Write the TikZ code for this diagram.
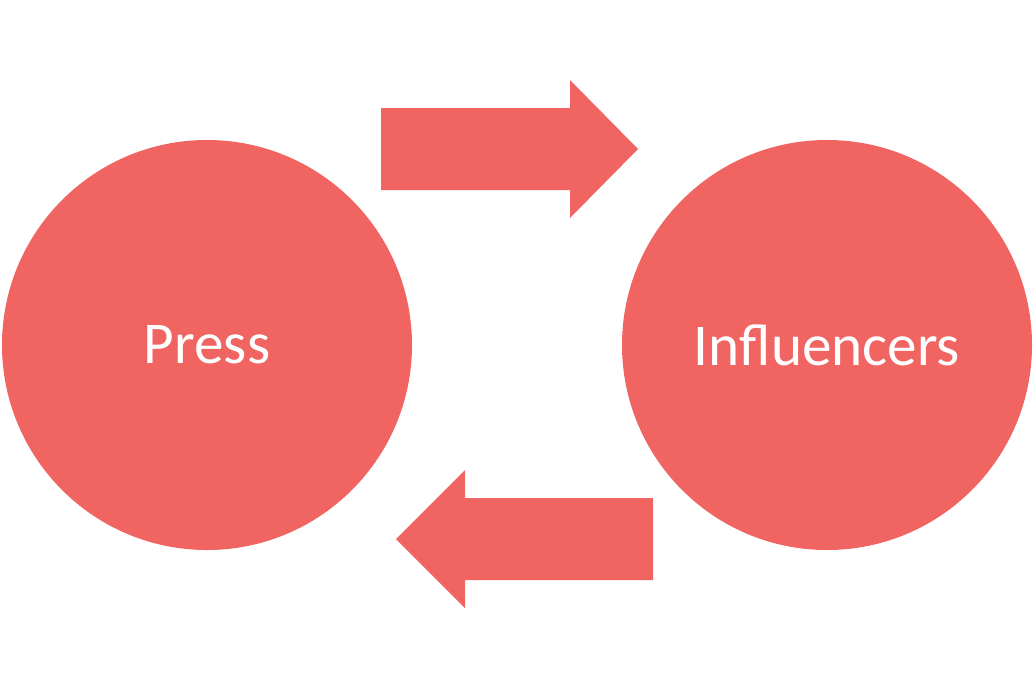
\documentclass[tikz,border=0pt]{standalone}
\usepackage{fontspec}
\setmainfont{Carlito}
\tikzset{
	bubble/.style={circle,fill={rgb,255:red,240;green,101;blue,98},minimum size=8.2cm,inner sep=0pt,text=white,font=\fontsize{33.7}{38}\selectfont},
	flow/.style={fill={rgb,255:red,240;green,101;blue,98}}
}
\begin{document}
\begin{tikzpicture}[x=0.2mm,y=-0.2mm]
	\useasboundingbox (0,0) rectangle (1035,689);
	% Circles
	\node[bubble] (press) at (207,345) {Press};
	\node[bubble] (infl) at (827,345) {Influencers};
	% Arrows
	\fill[flow] (381,108) -- (570,108) -- (570,80) -- (638,149) -- (570,218) -- (570,190) -- (381,190) -- cycle;
	\fill[flow] (653,498) -- (465,498) -- (465,470) -- (396,539) -- (465,608) -- (465,580) -- (653,580) -- cycle;
\end{tikzpicture}
\end{document}
